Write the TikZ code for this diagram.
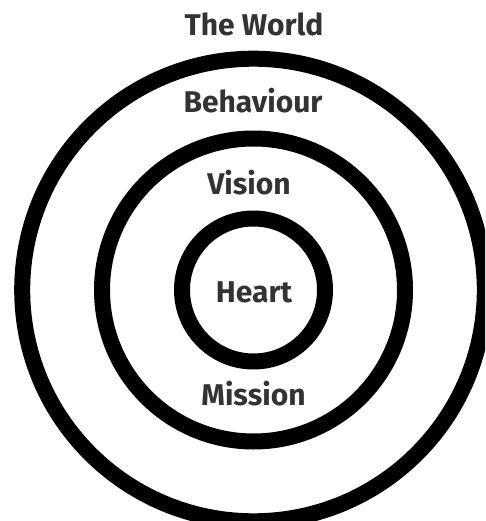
\documentclass[tikz,border=0pt]{standalone}
\usepackage{fontspec}
\setmainfont{Fira Sans}
\usepackage{tikz}

\begin{document}
\begin{tikzpicture} [x=1pt,y=-1pt,label/.style={anchor=base,text=black!80,font=\fontsize{30}{32}\selectfont\bfseries}]
			\useasboundingbox (0,0) rectangle (485,521);
			\clip (0,0) rectangle (485,521);
			
			\coordinate (center) at (253.5,290);
			
			\foreach \r in {71.5,151.5,231.3}
			\draw[line width=16pt] (center) circle (\r pt);
			
			\node[label] (world) at (254,36) {The World};
			\node[label] (behaviour) at (253,113) {Behaviour};
			\node[label] (vision) at (249,194) {Vision};
			\node[label] (heart) at (254,302) {Heart};
			\node[label] (mission) at (253.5,405) {Mission};
			\end{tikzpicture}
\end{document}
